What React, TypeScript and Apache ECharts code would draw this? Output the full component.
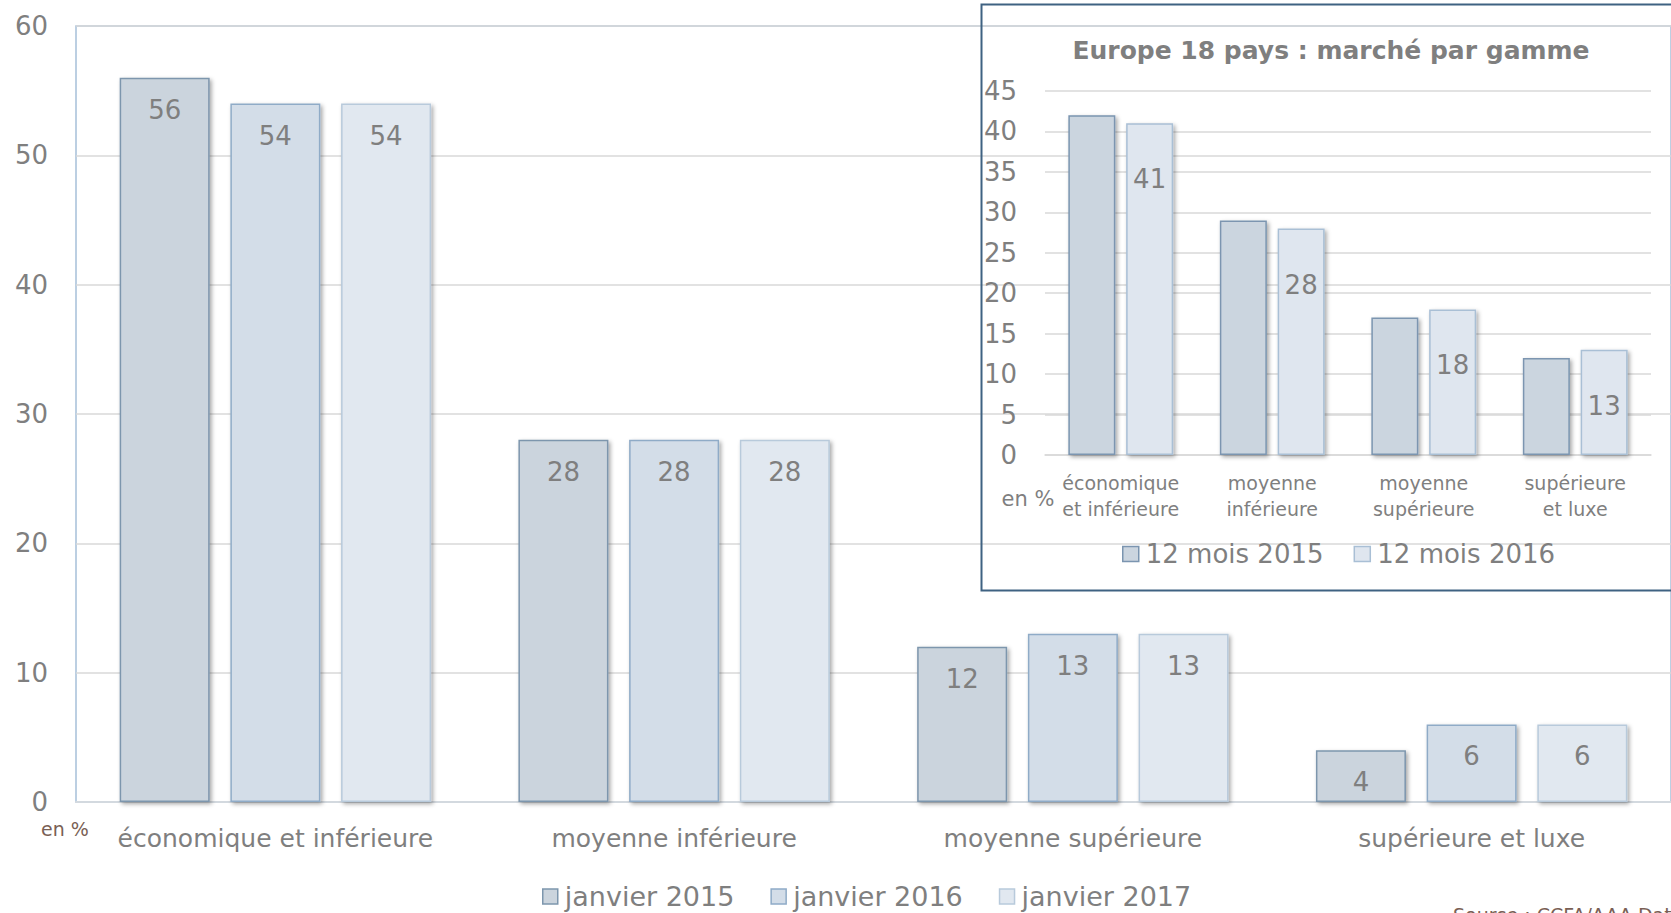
import React, { useEffect, useRef } from "react";
import * as echarts from "echarts";

const categories = ["économique et inférieure", "moyenne inférieure", "moyenne supérieure", "supérieure et luxe"];
const seriesNames = ["janvier 2015", "janvier 2016", "janvier 2017"];
const jan2015 = [56, 28, 12, 4];
const jan2016 = [54, 28, 13, 6];
const jan2017 = [54, 28, 13, 6];

const insetTitle = "Europe 18 pays : marché par gamme";
const insetCategories = ["économique\net inférieure", "moyenne\ninférieure", "moyenne\nsupérieure", "supérieure\net luxe"];
const insetNames = ["12 mois 2015", "12 mois 2016"];
const mois2015 = [42, 29, 17, 12];
const mois2016 = [41, 28, 18, 13];

const unitLabel = "en %";
const sourceText = "Source : CCFA/AAA Data";

const FONT = "DejaVu Sans";
const GRAY = "#7f7f7f";
const BROWN = "#7a5f55";

const mainStyles = [
  { color: "#cbd4dd", borderColor: "#7d96ad" },
  { color: "#d3dde8", borderColor: "#8fabc7" },
  { color: "#e1e8f0", borderColor: "#b8cadb" },
];
const insetStyles = [
  { color: "#cbd5df", borderColor: "#7b95b0" },
  { color: "#dfe6ef", borderColor: "#a9bfd5" },
];

export default function App() {
  const ref = useRef<HTMLDivElement>(null);
  useEffect(() => {
    if (!ref.current) return;
    const chart = echarts.init(ref.current, null, { renderer: "svg" });
    const shadow = {
      shadowColor: "rgba(0,0,0,0.35)",
      shadowBlur: 4,
      shadowOffsetX: 2,
      shadowOffsetY: 2,
    };
    const mainData = [jan2015, jan2016, jan2017];
    const insetData = [mois2015, mois2016];
    const option: any = {
      animation: false,
      backgroundColor: "#ffffff",
      textStyle: { fontFamily: FONT },
      grid: [
        {
          left: 76, top: 26, width: 1603, height: 776,
          show: true, borderColor: "#a6c0d9", borderWidth: 1.5, backgroundColor: "transparent",
        },
        { left: 1045, top: 91, width: 606, height: 364, show: false },
      ],
      xAxis: [
        {
          type: "category", gridIndex: 0, data: categories,
          axisLine: { show: true, lineStyle: { color: "#d3d9df", width: 2 } },
          axisTick: { show: false },
          axisLabel: { color: GRAY, fontSize: 25, fontFamily: FONT, margin: 24, interval: 0 },
        },
        {
          type: "category", gridIndex: 1, data: insetCategories,
          axisLine: { show: true, lineStyle: { color: "#d9d9d9", width: 1.5 } },
          axisTick: { show: false },
          axisLabel: { color: GRAY, fontSize: 19, fontFamily: FONT, margin: 15, lineHeight: 26, interval: 0 },
        },
      ],
      yAxis: [
        {
          type: "value", gridIndex: 0, min: 0, max: 60, interval: 10,
          axisLine: { show: false }, axisTick: { show: false },
          splitLine: { lineStyle: { color: "#d9d9d9", width: 1.5 } },
          axisLabel: { color: GRAY, fontSize: 26, fontFamily: FONT, margin: 28 },
        },
        {
          type: "value", gridIndex: 1, min: 0, max: 45, interval: 5,
          axisLine: { show: false }, axisTick: { show: false },
          splitLine: { lineStyle: { color: "#d9d9d9", width: 1.5 } },
          axisLabel: { color: GRAY, fontSize: 26, fontFamily: FONT, margin: 28 },
        },
      ],
      legend: [
        {
          left: 537, top: 878, itemGap: 36, itemWidth: 15, itemHeight: 15,
          icon: "rect",
          textStyle: { color: GRAY, fontSize: 27, fontFamily: FONT, padding: [0, 0, 0, 2] },
          data: seriesNames.map((n, i) => ({
            name: n,
            itemStyle: { color: mainStyles[i].color, borderColor: mainStyles[i].borderColor, borderWidth: 1.5, shadowBlur: 0 },
          })),
        },
        {
          left: 1117, top: 536, itemGap: 30, itemWidth: 16, itemHeight: 15,
          icon: "rect",
          textStyle: { color: GRAY, fontSize: 26, fontFamily: FONT, padding: [0, 0, 0, 2] },
          data: insetNames.map((n, i) => ({
            name: n,
            itemStyle: { color: insetStyles[i].color, borderColor: insetStyles[i].borderColor, borderWidth: 1.5, shadowBlur: 0 },
          })),
        },
      ],
      series: [
        ...seriesNames.map((n, i) => ({
          name: n, type: "bar", xAxisIndex: 0, yAxisIndex: 0,
          data: mainData[i], barWidth: 90, barGap: "23%",
          itemStyle: { ...mainStyles[i], borderWidth: 1.5, ...shadow },
          label: {
            show: true, position: "insideTop", distance: 19,
            color: GRAY, fontSize: 26, fontFamily: FONT,
          },
        })),
        ...insetNames.map((n, i) => ({
          name: n, type: "bar", xAxisIndex: 1, yAxisIndex: 1,
          data: insetData[i], barWidth: 47, barGap: "23%",
          itemStyle: { ...insetStyles[i], borderWidth: 1.5, ...shadow },
          label: {
            show: i === 1, position: "insideTop", distance: 43,
            color: GRAY, fontSize: 26, fontFamily: FONT,
          },
        })),
      ],
      graphic: [
        {
          type: "rect", left: 979, top: 2, z: 100, silent: true,
          shape: { x: 0, y: 0, width: 720, height: 586 },
          style: { fill: "none", stroke: "#3f6282", lineWidth: 2 },
        },
        {
          type: "text", x: 1331, y: 50, z: 100,
          style: {
            text: insetTitle, fill: GRAY, fontFamily: FONT, fontSize: 25, fontWeight: "bold",
            align: "center", verticalAlign: "middle",
          },
        },
        {
          type: "text", x: 1028, y: 499, z: 100,
          style: { text: unitLabel, fill: GRAY, fontFamily: FONT, fontSize: 21, align: "center", verticalAlign: "middle" },
        },
        {
          type: "text", x: 65, y: 829, z: 100,
          style: { text: unitLabel, fill: BROWN, fontFamily: FONT, fontSize: 19, align: "center", verticalAlign: "middle" },
        },
        {
          type: "text", x: 1453, y: 905, z: 100,
          style: { text: sourceText, fill: BROWN, fontFamily: FONT, fontSize: 19, align: "left", verticalAlign: "top" },
        },
      ],
    };
    chart.setOption(option);
    return () => chart.dispose();
  }, []);
  return (
    <div
      ref={ref}
      style={{ position: "fixed", left: 0, top: 0, width: 1671, height: 913, overflow: "hidden" }}
    />
  );
}
